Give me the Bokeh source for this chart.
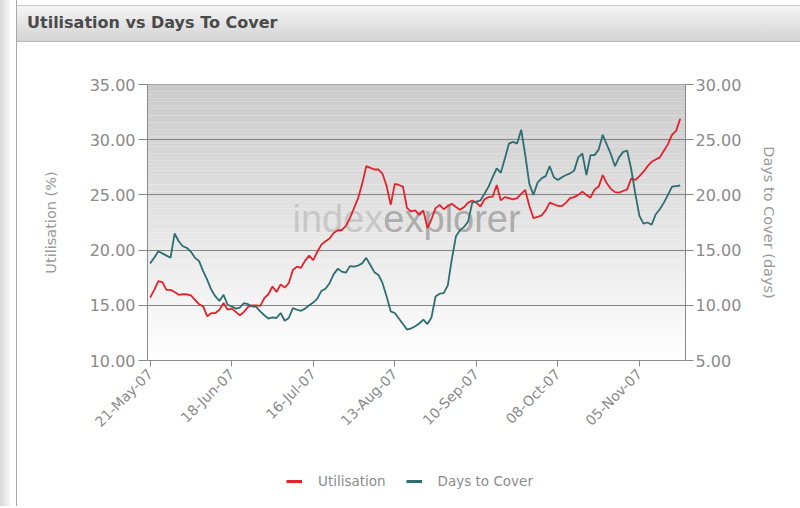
import math
import numpy as np
import pandas as pd
from bokeh.plotting import figure
from bokeh.models import (Range1d, LinearAxis, FixedTicker, PrintfTickFormatter,
                          Legend, LegendItem, Div, ColumnDataSource)
from bokeh.layouts import column, row
from bokeh.core.properties import value
from bokeh.embed import file_html
from bokeh.resources import INLINE

# ---------------- data ----------------
start_date = "2007-05-21"   # business-day series, one point per trading day

utilisation = [
    15.7, 16.4, 17.2, 17.1, 16.4, 16.4, 16.2, 15.95, 16.0, 16.0,
    15.9, 15.5, 15.1, 14.9, 14.0, 14.3, 14.3, 14.6, 15.2, 14.6,
    14.7, 14.4, 14.1, 14.4, 14.85, 15.0, 15.0, 14.95, 15.65, 16.0,
    16.7, 16.2, 16.9, 16.6, 17.0, 18.2, 18.5, 18.4, 19.05, 19.5,
    19.1, 19.85, 20.5, 20.8, 21.05, 21.55, 21.8, 21.8, 22.2, 22.9,
    23.8, 24.7, 26.0, 27.6, 27.45, 27.3, 27.3, 26.9, 25.8, 24.1,
    26.0, 25.9, 25.75, 23.8, 23.5, 23.6, 23.2, 23.6, 22.0, 22.8,
    23.8, 24.1, 23.7, 24.0, 24.2, 23.9, 23.65, 23.9, 24.3, 24.5,
    24.3, 23.95, 24.6, 24.8, 24.85, 25.9, 24.5, 24.8, 24.7, 24.6,
    24.7, 25.1, 25.45, 24.0, 22.9, 23.0, 23.15, 23.6, 24.3, 24.15,
    24.0, 24.0, 24.3, 24.7, 24.8, 25.0, 25.3, 25.0, 24.75, 25.5,
    25.75, 26.8, 26.05, 25.55, 25.25, 25.2, 25.35, 25.5, 26.5, 26.35,
    26.7, 27.1, 27.6, 28.0, 28.2, 28.4, 29.0, 29.6, 30.45, 30.8,
    31.9,
]

days_to_cover = [
    13.8, 14.3, 14.9, 14.7, 14.5, 14.3, 16.5, 15.8, 15.35, 15.2,
    14.85, 14.3, 14.0, 13.1, 12.3, 11.4, 10.8, 10.4, 10.95, 10.05,
    9.9, 9.7, 9.8, 10.2, 10.1, 9.9, 9.85, 9.45, 9.1, 8.8,
    8.9, 8.85, 9.3, 8.6, 8.85, 9.75, 9.6, 9.5, 9.7, 10.0,
    10.25, 10.6, 11.3, 11.5, 12.0, 12.8, 13.3, 13.05, 12.95, 13.55,
    13.5, 13.6, 13.8, 14.3, 13.65, 13.0, 12.75, 12.0, 10.8, 9.45,
    9.3, 8.8, 8.3, 7.8, 7.9, 8.1, 8.35, 8.7, 8.3, 8.9,
    10.8, 11.05, 11.1, 11.8, 14.2, 16.25, 16.8, 17.1, 17.6, 19.3,
    19.4, 19.5, 20.1, 20.75, 21.6, 22.4, 22.0, 23.3, 24.65, 24.8,
    24.65, 25.9, 23.6, 21.0, 20.0, 21.1, 21.5, 21.7, 22.6, 21.6,
    21.35, 21.6, 21.8, 21.95, 22.2, 23.4, 23.75, 21.8, 23.6, 23.6,
    24.1, 25.45, 24.55, 23.7, 22.6, 23.4, 23.9, 24.0, 22.3, 20.1,
    18.1, 17.4, 17.5, 17.3, 18.25, 18.7, 19.3, 20.0, 20.75, 20.8,
    20.85,
]

tick_labels = ["21-May-07", "18-Jun-07", "16-Jul-07", "13-Aug-07",
               "10-Sep-07", "08-Oct-07", "05-Nov-07"]
tick_step = 20   # one label every 20 trading days

util_ticks = [10, 15, 20, 25, 30, 35]
days_ticks = [5, 10, 15, 20, 25, 30]

# ---------------- styling ----------------
RED = "#e5222b"
TEAL = "#2c6e72"
LABEL_GREY = "#8a8a8a"
AXIS_GREY = "#8a8a8a"
FONT = "DejaVu Sans"

n = len(utilisation)
dates = pd.bdate_range(start_date, periods=n)
idx = np.arange(n)
src = ColumnDataSource(dict(i=idx, date=dates, u=utilisation, d=days_to_cover))

p = figure(frame_width=538, frame_height=276,
           min_border_left=130, min_border_right=113,
           min_border_top=42, min_border_bottom=80,
           x_range=Range1d(-0.65, 131.3), y_range=Range1d(10, 35),
           output_backend="svg", toolbar_location=None,
           background_fill_color="white", border_fill_color="white",
           outline_line_color="#9a9a9a")

# vertical grey-to-white gradient of the plot area (decoration)
nb = 80
edges = np.linspace(10, 35, nb + 1)
mids = (edges[:-1] + edges[1:]) / 2
greys = (255 - (mids - 10) / 25 * 53).astype(int)
band_colors = ["#%02x%02x%02x" % (g, g, g) for g in greys]
p.quad(left=-5, right=140, bottom=edges[:-1], top=edges[1:],
       fill_color=band_colors, line_color=None, level="image")

# watermark
p.text(x=[57.2], y=[22.8], text=["index"], text_align="right",
       text_baseline="alphabetic", text_font=value("Liberation Sans"),
       text_font_size="38px", text_color="#c2c2c2", text_alpha=0.85)
p.text(x=[57.2], y=[22.8], text=["explorer"], text_align="left",
       text_baseline="alphabetic", text_font=value("Liberation Sans"),
       text_font_size="38px", text_color="#a2a2a2", text_alpha=0.85)

p.extra_y_ranges = {"days": Range1d(5, 30)}

r_u = p.line("i", "u", source=src, line_color=RED, line_width=1.8)
r_d = p.line("i", "d", source=src, y_range_name="days", line_color=TEAL, line_width=1.8)

# grid
p.xgrid.visible = False
p.ygrid.ticker = FixedTicker(ticks=util_ticks)
p.ygrid.grid_line_color = "#858585"
p.ygrid.grid_line_width = 1


def style_axis(ax):
    ax.axis_line_color = AXIS_GREY
    ax.major_tick_line_color = AXIS_GREY
    ax.minor_tick_line_color = None
    ax.major_tick_in = 0
    ax.major_label_text_color = LABEL_GREY
    ax.major_label_text_font = FONT
    ax.major_label_text_font_size = "16px"
    ax.axis_label_text_color = "#9a9a9a"
    ax.axis_label_text_font = FONT
    ax.axis_label_text_font_size = "14.5px"
    ax.axis_label_text_font_style = "normal"


# left axis
ly = p.yaxis[0]
ly.ticker = FixedTicker(ticks=util_ticks)
ly.formatter = PrintfTickFormatter(format="%.2f")
ly.axis_label = "Utilisation (%)"
style_axis(ly)
ly.major_tick_out = 9
ly.major_label_standoff = 3
ly.axis_label_standoff = 28

# right axis
ry = LinearAxis(y_range_name="days", ticker=FixedTicker(ticks=days_ticks),
                formatter=PrintfTickFormatter(format="%.2f"),
                axis_label="Days to Cover (days)")
style_axis(ry)
ry.major_tick_out = 8
ry.major_label_standoff = 2
ry.axis_label_standoff = 17
p.add_layout(ry, "right")

# bottom axis
bx = p.xaxis[0]
xt = [k * tick_step for k in range(len(tick_labels))]
bx.ticker = FixedTicker(ticks=xt)
bx.major_label_overrides = {t: lab for t, lab in zip(xt, tick_labels)}
style_axis(bx)
bx.major_label_orientation = math.pi / 4
bx.major_tick_out = 6
bx.major_label_standoff = 5
bx.major_label_text_font_size = "14px"

# legend, in its own strip below the chart (series drawn off-range, only keys show)
lg = figure(width=783, height=66, min_border=0, x_axis_type=None, y_axis_type=None,
            x_range=Range1d(-1000, -999), y_range=Range1d(-1000, -999),
            output_backend="svg", toolbar_location=None,
            outline_line_color=None, background_fill_color="white",
            border_fill_color="white")
lg.xgrid.visible = False
lg.ygrid.visible = False
k_u = lg.line("i", "u", source=src, line_color=RED, line_width=3)
k_d = lg.line("i", "d", source=src, line_color=TEAL, line_width=3)
legend = Legend(items=[LegendItem(label="Utilisation", renderers=[k_u]),
                       LegendItem(label="Days to Cover", renderers=[k_d])],
                orientation="horizontal", location=(139, 17),
                border_line_color=None, background_fill_alpha=0,
                label_text_font=FONT, label_text_font_size="13.5px",
                label_text_color="#8c8c8c", glyph_width=16, glyph_height=14,
                label_standoff=16, spacing=20, padding=5, margin=0)
lg.add_layout(legend)

header = Div(text="Utilisation vs Days To Cover", width=783, height=37,
             margin=(5, 0, 0, 0),
             styles={"background": "linear-gradient(#f5f5f5, #d3d3d3)",
                     "border-top": "1px solid #c8c8c8",
                     "border-bottom": "1px solid #b8b8b8",
                     "box-sizing": "border-box",
                     "font-family": "DejaVu Sans", "font-weight": "bold",
                     "font-size": "16px", "color": "#4a4a4a",
                     "padding-left": "10px", "line-height": "34px"})

strip = Div(text="", width=17, height=506, margin=(0, 0, 0, 0),
            styles={"background": "linear-gradient(to right, #d9d9d9, #f3f3f3 55%, #ffffff 70%)",
                    "border-right": "1px solid #a8a8a8",
                    "box-sizing": "border-box"})

layout = row(strip, column(header, p, lg, spacing=0), spacing=0)

open("out.html", "w").write(file_html(layout, INLINE))
